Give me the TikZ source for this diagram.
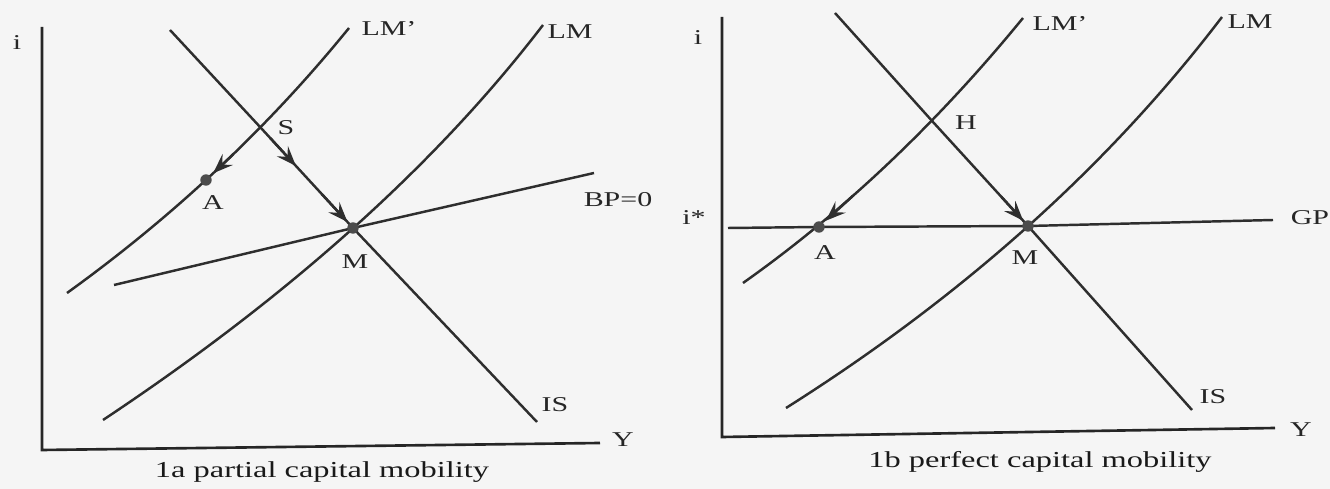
\documentclass[tikz,border=0pt]{standalone}
\usepackage{fontspec}
\setmainfont{Liberation Serif}[FakeStretch=1.42]
\usetikzlibrary{arrows.meta, calc}

\begin{document}
\begin{tikzpicture}[
  x=0.02cm, y=-0.02cm,
  axis/.style={line width=1.5pt, black!85},
  curve/.style={line width=1.4pt, black!82},
  arrow/.style={-{Stealth[length=4mm, width=3mm, inset=1.5mm]}, line width=1.4pt, black!82},
  dot/.style={circle, fill=black!70, inner sep=0pt, minimum size=6.5pt},
  lbl/.style={inner sep=0pt, font=\fontsize{12}{14}\selectfont, text=black!85},
  caption/.style={inner sep=0pt, font=\fontsize{13}{15}\selectfont, text=black!90}
]
\fill[black!4] (0,0) rectangle (1330,489);
\useasboundingbox (0,0) rectangle (1330,489);

% 1a partial capital mobility
\coordinate (oa) at (42,450);
\coordinate (Sa) at (261,128);
\coordinate (Aa) at (206,180);
\coordinate (Ma) at (353,228);
\coordinate (LMa0) at (103,420);
\coordinate (LMa1) at (543,25);
\coordinate (LMac) at (383,234);
\coordinate (LMpa0) at (67,293);
\coordinate (LMpa1) at (349,28);
\coordinate (LMpac) at (228,177);
\draw[axis] (42,27) -- (oa) -- (600,443);
\draw[curve] (LMpa0) .. controls ($(LMpa0)!0.6667!(LMpac)$) and ($(LMpa1)!0.6667!(LMpac)$) .. (LMpa1);
\draw[curve] (LMa0) .. controls ($(LMa0)!0.6667!(LMac)$) and ($(LMa1)!0.6667!(LMac)$) .. (LMa1);
\draw[curve] (170,30) -- (Sa) -- (Ma) -- (537,422);
\draw[curve] (114,285) -- (Ma) -- (594,173);
\draw[arrow] ($(Sa)!0.5!(Aa)$) -- ($(Sa)!0.87!(Aa)$);
\draw[arrow] ($(Sa)!0.1!(Ma)$) -- ($(Sa)!0.38!(Ma)$);
\draw[arrow] ($(Sa)!0.66!(Ma)$) -- ($(Sa)!0.94!(Ma)$);
\node[dot] (dotAa) at (Aa) {};
\node[dot] (dotMa) at (Ma) {};
\node[lbl] (ia) at (17,43) {i};
\node[lbl] (Ya) at (623,440) {Y};
\node[lbl] (LMpa) at (389,28) {LM'};
\node[lbl] (LMa) at (570,32) {LM};
\node[lbl] (ISa) at (555,405) {IS};
\node[lbl] (BPa) at (618,200) {BP=0};
\node[lbl] (Sla) at (286,128) {S};
\node[lbl] (Ala) at (213,203) {A};
\node[lbl] (Mla) at (355,262) {M};
\node[caption] (capa) at (322,472) {1a partial capital mobility};

% 1b perfect capital mobility
\coordinate (ob) at (722,437);
\coordinate (Hb) at (933,122);
\coordinate (Ab) at (819,227);
\coordinate (Mb) at (1028,226);
\coordinate (LMb0) at (786,408);
\coordinate (LMb1) at (1222,17);
\coordinate (LMbc) at (1052,240);
\coordinate (LMpb0) at (743,283);
\coordinate (LMpb1) at (1023,18);
\coordinate (LMpbc) at (893,177);
\draw[axis] (722,17) -- (ob) -- (1275,428);
\draw[curve] (728,228) -- (Ab) -- (Mb) -- (1273,220);
\draw[curve] (LMpb0) .. controls ($(LMpb0)!0.6667!(LMpbc)$) and ($(LMpb1)!0.6667!(LMpbc)$) .. (LMpb1);
\draw[curve] (LMb0) .. controls ($(LMb0)!0.6667!(LMbc)$) and ($(LMb1)!0.6667!(LMbc)$) .. (LMb1);
\draw[curve] (835,13) -- (Hb) -- (Mb) -- (1192,410);
\draw[arrow] ($(Hb)!0.7!(Ab)$) -- ($(Hb)!0.94!(Ab)$);
\draw[arrow] ($(Hb)!0.72!(Mb)$) -- ($(Hb)!0.95!(Mb)$);
\node[dot] (dotAb) at (Ab) {};
\node[dot] (dotMb) at (Mb) {};
\node[lbl] (ib) at (698,38) {i};
\node[lbl] (istar) at (694,218) {i*};
\node[lbl] (Yb) at (1301,430) {Y};
\node[lbl] (GPb) at (1310,218) {GP};
\node[lbl] (LMpb) at (1060,23) {LM'};
\node[lbl] (LMb) at (1250,22) {LM};
\node[lbl] (ISb) at (1213,397) {IS};
\node[lbl] (Hlb) at (966,123) {H};
\node[lbl] (Alb) at (825,253) {A};
\node[lbl] (Mlb) at (1025,258) {M};
\node[caption] (capb) at (1040,462) {1b perfect capital mobility};
\end{tikzpicture}
\end{document}
